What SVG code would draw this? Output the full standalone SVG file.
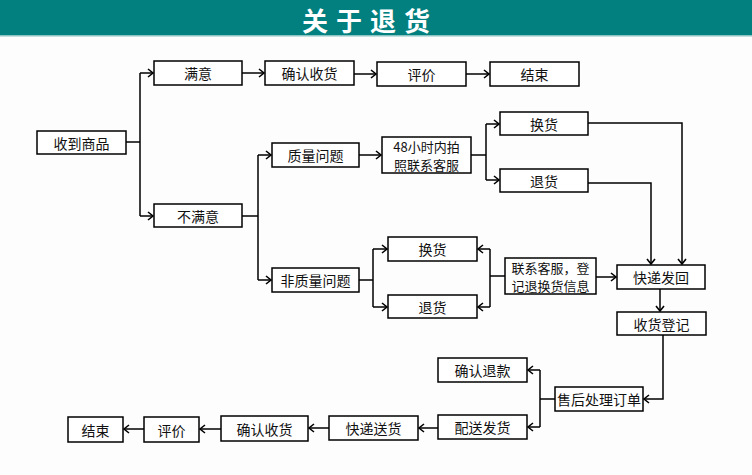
<svg xmlns="http://www.w3.org/2000/svg" width="752" height="475" viewBox="0 0 752 475">
<style>
.b{fill:#fff;stroke:#000;stroke-width:1.5}
.t{font-family:"Noto Sans CJK SC","Noto Sans",sans-serif;font-size:14px;fill:#111;text-anchor:middle;dominant-baseline:central}
.s{font-size:13px}
.c{fill:none;stroke:#000;stroke-width:1.5}
</style>
<defs>
<marker id="a" markerUnits="userSpaceOnUse" markerWidth="10" markerHeight="10" refX="7" refY="5" orient="auto">
<path d="M2,1 L7,5 L2,9" fill="none" stroke="#000" stroke-width="1.6"/>
</marker>
</defs>
<rect x="0" y="0" width="752" height="475" fill="#fdfdfd"/>
<g id="header">
<rect x="0" y="0" width="752" height="35" fill="#027f7f"/>
<rect x="0" y="35" width="752" height="1.5" fill="#8cc4c4"/>
<text x="370" y="19" font-family="'Noto Sans CJK SC',sans-serif" font-size="26" font-weight="bold" fill="#fff" text-anchor="middle" dominant-baseline="central" letter-spacing="8">关于退货</text>
</g>
<g id="connectors">
<path class="c" d="M126,142 H140 M140,73 V216"/>
<path class="c" d="M140,73 H153" marker-end="url(#a)"/>
<path class="c" d="M140,216 H153" marker-end="url(#a)"/>
<path class="c" d="M242,73 H264" marker-end="url(#a)"/>
<path class="c" d="M354,74 H376" marker-end="url(#a)"/>
<path class="c" d="M466,74 H489" marker-end="url(#a)"/>
<path class="c" d="M242,216 H258 M258,155 V280"/>
<path class="c" d="M258,155 H271" marker-end="url(#a)"/>
<path class="c" d="M258,280 H271" marker-end="url(#a)"/>
<path class="c" d="M359,155 H381" marker-end="url(#a)"/>
<path class="c" d="M471,155 H486 M486,124 V180"/>
<path class="c" d="M486,124 H499" marker-end="url(#a)"/>
<path class="c" d="M486,180 H499" marker-end="url(#a)"/>
<path class="c" d="M588,123 H682 V264" marker-end="url(#a)"/>
<path class="c" d="M588,183 H651 V264" marker-end="url(#a)"/>
<path class="c" d="M359,280 H373 M373,249 V307"/>
<path class="c" d="M373,249 H387" marker-end="url(#a)"/>
<path class="c" d="M373,307 H387" marker-end="url(#a)"/>
<path class="c" d="M505,276 H490 M490,249 V307"/>
<path class="c" d="M490,249 H478" marker-end="url(#a)"/>
<path class="c" d="M490,307 H478" marker-end="url(#a)"/>
<path class="c" d="M596,277 H616" marker-end="url(#a)"/>
<path class="c" d="M660,289 V311" marker-end="url(#a)"/>
<path class="c" d="M663,335 V399 H644" marker-end="url(#a)"/>
<path class="c" d="M555,399 H540 M540,370 V427"/>
<path class="c" d="M540,370 H528" marker-end="url(#a)"/>
<path class="c" d="M540,427 H528" marker-end="url(#a)"/>
<path class="c" d="M438,428 H419" marker-end="url(#a)"/>
<path class="c" d="M329,428 H309" marker-end="url(#a)"/>
<path class="c" d="M221,429 H200" marker-end="url(#a)"/>
<path class="c" d="M144,429 H124" marker-end="url(#a)"/>
</g>
<g id="n1"><rect class="b" x="37" y="131" width="89" height="23"/><text class="t" x="81.5" y="142.5">收到商品</text></g>
<g id="n2"><rect class="b" x="154" y="61" width="88" height="24"/><text class="t" x="198" y="73">满意</text></g>
<g id="n3"><rect class="b" x="265" y="61" width="89" height="24"/><text class="t" x="309.5" y="73">确认收货</text></g>
<g id="n4"><rect class="b" x="377" y="62" width="89" height="24"/><text class="t" x="421.5" y="74">评价</text></g>
<g id="n5"><rect class="b" x="490" y="62" width="89" height="24"/><text class="t" x="534.5" y="74">结束</text></g>
<g id="n6"><rect class="b" x="154" y="204" width="88" height="23"/><text class="t" x="198" y="215.5">不满意</text></g>
<g id="n7"><rect class="b" x="272" y="143" width="87" height="24"/><text class="t" x="315.5" y="155">质量问题</text></g>
<g id="n8"><rect class="b" x="382" y="137" width="89" height="36"/><text class="t s" x="426.5" y="146">48小时内拍</text><text class="t s" x="426.5" y="164">照联系客服</text></g>
<g id="n9"><rect class="b" x="500" y="112" width="88" height="23"/><text class="t" x="544" y="123.5">换货</text></g>
<g id="n10"><rect class="b" x="500" y="169" width="88" height="23"/><text class="t" x="544" y="180.5">退货</text></g>
<g id="n11"><rect class="b" x="272" y="268" width="87" height="24"/><text class="t" x="315.5" y="280">非质量问题</text></g>
<g id="n12"><rect class="b" x="388" y="237" width="89" height="24"/><text class="t" x="432.5" y="249">换货</text></g>
<g id="n13"><rect class="b" x="388" y="295" width="89" height="23"/><text class="t" x="432.5" y="306.5">退货</text></g>
<g id="n14"><rect class="b" x="505" y="258" width="91" height="36"/><text class="t s" x="550.5" y="267">联系客服，登</text><text class="t s" x="550.5" y="285">记退换货信息</text></g>
<g id="n15"><rect class="b" x="617" y="265" width="88" height="24"/><text class="t" x="661" y="277">快递发回</text></g>
<g id="n16"><rect class="b" x="617" y="312" width="89" height="23"/><text class="t" x="661.5" y="323.5">收货登记</text></g>
<g id="n17"><rect class="b" x="555" y="387" width="88" height="24"/><text class="t" x="599" y="399">售后处理订单</text></g>
<g id="n18"><rect class="b" x="438" y="358" width="89" height="24"/><text class="t" x="482.5" y="370">确认退款</text></g>
<g id="n19"><rect class="b" x="438" y="415" width="89" height="24"/><text class="t" x="482.5" y="427">配送发货</text></g>
<g id="n20"><rect class="b" x="329" y="416" width="89" height="24"/><text class="t" x="373.5" y="428">快递送货</text></g>
<g id="n21"><rect class="b" x="221" y="416" width="87" height="25"/><text class="t" x="264.5" y="428.5">确认收货</text></g>
<g id="n22"><rect class="b" x="144" y="417" width="55" height="25"/><text class="t" x="171.5" y="429.5">评价</text></g>
<g id="n23"><rect class="b" x="68" y="417" width="55" height="25"/><text class="t" x="95.5" y="429.5">结束</text></g>
</svg>
